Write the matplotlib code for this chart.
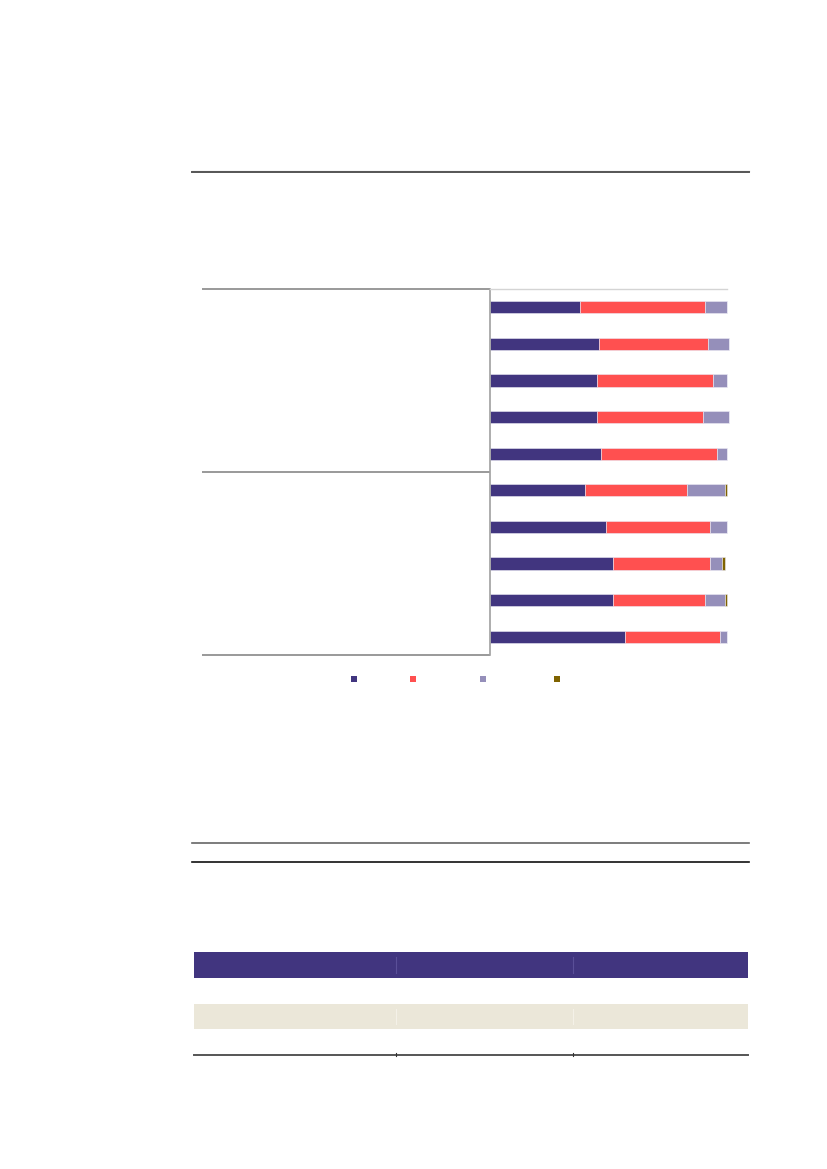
import matplotlib
matplotlib.use('Agg')
import matplotlib.pyplot as plt
from matplotlib.lines import Line2D
from matplotlib.patches import Patch, Rectangle
import numpy as np

plt.rcParams['font.family'] = ['DejaVu Sans']

PURPLE = '#41357f'
RED = '#ff5050'
LAVENDER = '#958fba'
OLIVE = '#7f6300'
BEIGE = '#ebe7d9'

# share of each row (%), 10 rows in two groups of five
series_1 = [38.0, 46.0, 45.1, 45.1, 46.8, 40.1, 49.1, 51.9, 51.9, 57.1]
series_2 = [52.7, 45.9, 48.8, 44.7, 48.9, 43.0, 43.8, 40.9, 38.9, 39.8]
series_3 = [9.3, 9.1, 6.0, 11.1, 4.2, 16.0, 7.2, 5.1, 8.3, 3.1]
series_4 = [0.0, 0.0, 0.0, 0.0, 0.0, 0.8, 0.0, 1.1, 0.8, 0.0]
group_breaks = [-0.5, 4.5, 9.5]

# empty table: header + 3 rows, 3 columns
table_rows = [['', '', ''], ['', '', ''], ['', '', ''], ['', '', '']]
table_col_widths = [202, 177, 175]

W, H = 827, 1169


def fx(px):
    return px / W


def fy(py):
    return 1 - py / H


fig = plt.figure(figsize=(8.27, 11.69), dpi=100)

# page rules
fig.add_artist(Line2D([fx(192), fx(749)], [fy(170.5)] * 2, color='#d8d8d8', lw=1.0))
fig.add_artist(Line2D([fx(192), fx(749)], [fy(172)] * 2, color='#555555', lw=1.4))
fig.add_artist(Line2D([fx(192), fx(749)], [fy(843)] * 2, color='#666666', lw=1.2))
fig.add_artist(Line2D([fx(192), fx(749)], [fy(862)] * 2, color='#111111', lw=1.2))

# ---- stacked bar chart ----
ax = fig.add_axes([fx(490), fy(655), fx(237), 366 / H])
y = np.arange(len(series_1))
stack = [series_1, series_2, series_3, series_4]
colors = [PURPLE, RED, LAVENDER, OLIVE]
left = np.zeros(len(y))
for vals, c in zip(stack, colors):
    vals = np.array(vals)
    bars = ax.barh(y, vals, left=left, height=0.33, color=c,
                   edgecolor='#ecebf5', linewidth=0.4)
    for b in bars:
        b.set_clip_on(False)
    left += vals

ax.set_xlim(0, 100)
ax.set_ylim(9.5, -0.5)
ax.set_xticks([])
ax.set_yticks([])
ax.patch.set_alpha(0)
for s in ['right', 'bottom']:
    ax.spines[s].set_visible(False)
ax.spines['left'].set_color('#a0a0a0')
ax.spines['left'].set_linewidth(1.2)
ax.spines['top'].set_color('#d4d4d4')
ax.spines['top'].set_linewidth(1.0)

# category group separators to the left of the axis
trans = ax.get_yaxis_transform()
x0 = -(490 - 202) / 237
for g in group_breaks:
    ax.plot([x0, 0], [g, g], transform=trans, color='#888888', lw=1.2,
            clip_on=False, solid_capstyle='butt')

# legend markers (no label text in the source)
leg_x = [354, 413, 483, 557]
for c, lx in zip(colors, leg_x):
    leg = fig.legend(handles=[Patch(facecolor=c, edgecolor='none')], labels=[''],
                     loc='center', bbox_to_anchor=(fx(lx), fy(680)),
                     frameon=False, fontsize=8, handlelength=0.55,
                     handleheight=0.55, handletextpad=0.0, borderpad=0.0)

# ---- table ----
tab = fig.add_axes([fx(194), fy(1055), fx(554), 103 / H])
tab.set_axis_off()
n_rows = len(table_rows)
widths = np.array(table_col_widths) / sum(table_col_widths)
edges = np.concatenate([[0], np.cumsum(widths)])
row_colors = [PURPLE, 'white', BEIGE, 'white']
for r in range(n_rows):
    top = 1 - r / n_rows
    tab.add_patch(Rectangle((0, top - 1 / n_rows), 1, 1 / n_rows,
                            facecolor=row_colors[r], edgecolor='none'))
    sep_col = '#5a4f98' if r == 0 else ('#f4f1e8' if row_colors[r] == BEIGE else 'white')
    for e in edges[1:-1]:
        tab.plot([e, e], [top - 0.8 / n_rows, top - 0.2 / n_rows],
                 color=sep_col, lw=0.8)
tab.plot([0, 1], [0, 0], color='#555555', lw=1.4, clip_on=False)
for e in edges[1:-1]:
    tab.plot([e, e], [-0.01, 0.015], color='#333333', lw=0.8, clip_on=False)
tab.set_xlim(0, 1)
tab.set_ylim(0, 1)

fig.savefig('out.png', dpi=100)
